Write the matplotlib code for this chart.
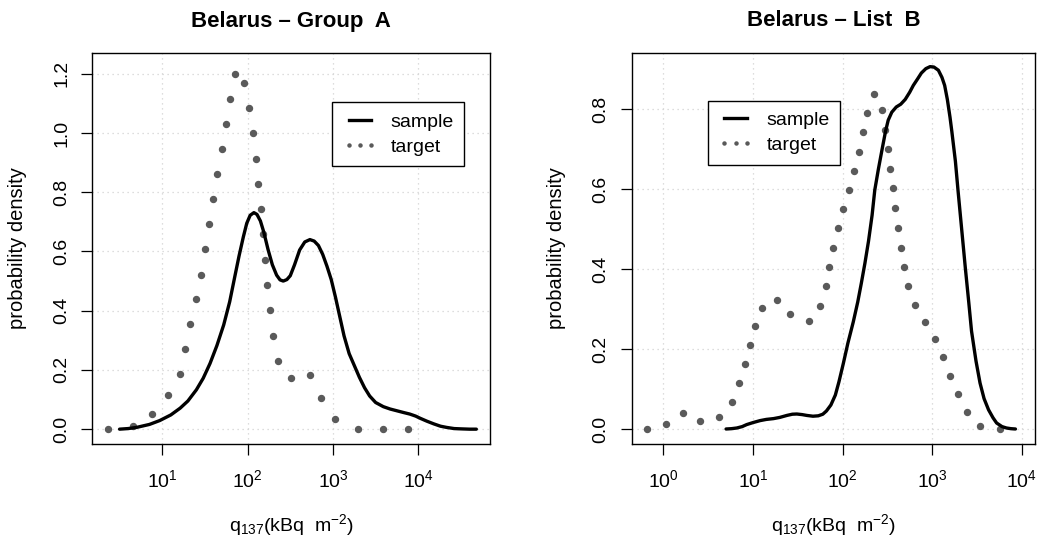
import numpy as np
import matplotlib
matplotlib.use('Agg')
import matplotlib.pyplot as plt
from matplotlib.lines import Line2D
from matplotlib.ticker import FixedLocator, NullLocator, FormatStrFormatter

plt.rcParams['font.family'] = ['Liberation Sans', 'DejaVu Sans']
plt.rcParams['mathtext.fontset'] = 'custom'
plt.rcParams['mathtext.rm'] = 'Liberation Sans'
plt.rcParams['mathtext.it'] = 'Liberation Sans:italic'
plt.rcParams['mathtext.bf'] = 'Liberation Sans:bold'

# ---- data (log10 of q137 in kBq/m2, density) ----
# Group A
a_sample_logq = [0.50, 0.60, 0.70, 0.85, 0.97, 1.10, 1.21, 1.30, 1.40, 1.48, 1.56,
                 1.64, 1.72, 1.79, 1.85, 1.90, 1.95, 1.99, 2.03, 2.074, 2.11, 2.15,
                 2.19, 2.24, 2.29, 2.34, 2.38, 2.418, 2.46, 2.50, 2.55, 2.61, 2.67,
                 2.73, 2.78, 2.83, 2.88, 2.93, 2.98, 3.03, 3.08, 3.13, 3.19, 3.25,
                 3.31, 3.37, 3.43, 3.50, 3.59, 3.67, 3.75, 3.83, 3.90, 3.97, 4.02,
                 4.10, 4.18, 4.26, 4.33, 4.42, 4.50, 4.60, 4.68]
a_sample_dens = [0.0, 0.002, 0.006, 0.016, 0.029, 0.048, 0.071, 0.095, 0.133, 0.172, 0.222,
                 0.282, 0.352, 0.430, 0.515, 0.585, 0.649, 0.695, 0.722, 0.731, 0.725, 0.703,
                 0.665, 0.606, 0.555, 0.520, 0.504, 0.500, 0.505, 0.518, 0.555, 0.605, 0.632,
                 0.640, 0.635, 0.620, 0.590, 0.550, 0.505, 0.445, 0.380, 0.315, 0.255, 0.215,
                 0.175, 0.140, 0.112, 0.090, 0.076, 0.068, 0.062, 0.056, 0.051, 0.044, 0.037,
                 0.027, 0.018, 0.010, 0.006, 0.002, 0.001, 0.0, 0.0]
a_target_logq = [0.36, 0.652, 0.883, 1.063, 1.207, 1.266, 1.324, 1.39, 1.449, 1.50,
                 1.547, 1.594, 1.645, 1.695, 1.742, 1.789, 1.848, 1.961, 2.016, 2.059,
                 2.098, 2.125, 2.152, 2.176, 2.203, 2.23, 2.262, 2.30, 2.352, 2.504,
                 2.734, 2.859, 3.02, 3.29, 3.586, 3.883]
a_target_dens = [0.0, 0.012, 0.052, 0.116, 0.187, 0.271, 0.355, 0.438, 0.521, 0.607,
                 0.691, 0.776, 0.861, 0.945, 1.030, 1.115, 1.199, 1.169, 1.083, 0.999,
                 0.913, 0.828, 0.743, 0.658, 0.572, 0.487, 0.401, 0.316, 0.231, 0.174,
                 0.184, 0.106, 0.034, 0.0, 0.0, 0.0]

# List B
b_sample_logq = [0.70, 0.76, 0.82, 0.88, 0.93, 1.00, 1.08, 1.15, 1.23, 1.30, 1.38,
                 1.44, 1.49, 1.55, 1.60, 1.67, 1.73, 1.78, 1.82, 1.87, 1.92, 1.96,
                 2.01, 2.06, 2.12, 2.17, 2.21, 2.25, 2.29, 2.33, 2.36, 2.40, 2.44,
                 2.48, 2.51, 2.55, 2.60, 2.65, 2.70, 2.75, 2.79, 2.84, 2.88, 2.93,
                 2.977, 3.02, 3.07, 3.11, 3.14, 3.17, 3.20, 3.22, 3.26, 3.29, 3.33,
                 3.37, 3.41, 3.44, 3.49, 3.535, 3.58, 3.63, 3.68, 3.72, 3.78, 3.83,
                 3.88, 3.93]
b_sample_dens = [0.0, 0.0008, 0.0025, 0.006, 0.011, 0.016, 0.021, 0.024, 0.026, 0.029, 0.034,
                 0.037, 0.0375, 0.036, 0.034, 0.032, 0.033, 0.037, 0.045, 0.060, 0.085, 0.118,
                 0.165, 0.215, 0.268, 0.318, 0.365, 0.415, 0.470, 0.535, 0.598, 0.650, 0.698,
                 0.745, 0.773, 0.793, 0.806, 0.813, 0.825, 0.843, 0.860, 0.877, 0.891, 0.902,
                 0.907, 0.906, 0.898, 0.880, 0.860, 0.825, 0.780, 0.745, 0.670, 0.595, 0.500,
                 0.405, 0.315, 0.245, 0.170, 0.115, 0.076, 0.048, 0.028, 0.015, 0.006, 0.0025,
                 0.0008, 0.0]
b_target_logq = [-0.182, 0.026, 0.216, 0.413, 0.625, 0.763, 0.845, 0.908, 0.967, 1.027,
                 1.105, 1.269, 1.418, 1.626, 1.753, 1.812, 1.853, 1.898, 1.946, 2.006,
                 2.073, 2.132, 2.184, 2.233, 2.277, 2.352, 2.441, 2.478, 2.512, 2.534,
                 2.56, 2.586, 2.616, 2.649, 2.683, 2.735, 2.806, 2.917, 3.033, 3.126,
                 3.20, 3.286, 3.386, 3.539, 3.758]
b_target_dens = [0.0, 0.0125, 0.040, 0.020, 0.030, 0.068, 0.114, 0.162, 0.209, 0.257,
                 0.303, 0.3225, 0.287, 0.271, 0.309, 0.3575, 0.405, 0.454, 0.5025, 0.551,
                 0.598, 0.646, 0.694, 0.7425, 0.791, 0.8375, 0.798, 0.749, 0.700, 0.652,
                 0.602, 0.552, 0.5025, 0.453, 0.405, 0.357, 0.310, 0.267, 0.225, 0.179,
                 0.1325, 0.0867, 0.0425, 0.0067, 0.0]

titles = ['Belarus \u2013 Group  A', 'Belarus \u2013 List  B']
legend_labels = ['sample', 'target']

dot_color = '#5a5a5a'


def draw_panel(ax, title, s_logq, s_dens, t_logq, t_dens, xlim_log, ylim,
               xdecades, yticks, leg_xy):
    ax.set_xscale('log')
    # target: R-style thick dotted line, drawn as its dots
    ax.plot(10 ** np.array(t_logq), t_dens, ls='none', marker='o', ms=4.3,
            color=dot_color, mec=dot_color, zorder=3)
    ax.plot(10 ** np.array(s_logq), s_dens, color='black', lw=2.4,
            solid_joinstyle='round', solid_capstyle='round', zorder=4)

    ax.set_xlim(10 ** xlim_log[0], 10 ** xlim_log[1])
    ax.set_ylim(*ylim)
    ax.xaxis.set_major_locator(FixedLocator([10.0 ** k for k in xdecades]))
    ax.xaxis.set_minor_locator(NullLocator())
    ax.yaxis.set_major_locator(FixedLocator(yticks))
    ax.yaxis.set_major_formatter(FormatStrFormatter('%.1f'))

    ax.grid(True, color='#d3d3d3', ls=(0, (1, 3)), lw=0.9)
    ax.set_axisbelow(True)
    for sp in ax.spines.values():
        sp.set_linewidth(1.0)

    ax.tick_params(axis='both', direction='out', length=8, width=0.9,
                   labelsize=14, color='black')
    ax.tick_params(axis='x', pad=10)
    ax.tick_params(axis='y', pad=8)
    for lab in ax.get_yticklabels():
        lab.set_rotation(90)
        lab.set_va('center')

    ax.set_title(title, fontsize=16, fontweight='bold', pad=19)
    ax.set_ylabel('probability density', fontsize=14.5, labelpad=19)
    ax.set_xlabel(r'$\mathregular{q_{137}(kBq\ \ m^{-2})}$', fontsize=14, labelpad=15)

    handles = [Line2D([], [], color='black', lw=2.4),
               Line2D([], [], ls='none', marker='o', ms=2.2, color=dot_color)]
    leg = ax.legend(handles, legend_labels, numpoints=3, loc='upper left',
                    bbox_to_anchor=leg_xy, borderaxespad=0, fancybox=False,
                    edgecolor='black', framealpha=1, fontsize=14, borderpad=0.55,
                    handlelength=1.75, handletextpad=0.7, labelspacing=0.38)
    leg.get_frame().set_linewidth(1.0)


fig = plt.figure(figsize=(10.39, 5.39), dpi=100)
ax1 = fig.add_axes([0.0888, 0.1763, 0.3828, 0.7254])
ax2 = fig.add_axes([0.608, 0.1763, 0.3882, 0.7260])

draw_panel(ax1, titles[0], a_sample_logq, a_sample_dens, a_target_logq, a_target_dens,
           (0.18, 4.84), (-0.05, 1.27), [1, 2, 3, 4],
           [0.0, 0.2, 0.4, 0.6, 0.8, 1.0, 1.2], (0.603, 0.874))
draw_panel(ax2, titles[1], b_sample_logq, b_sample_dens, b_target_logq, b_target_dens,
           (-0.353, 4.149), (-0.0375, 0.942), [0, 1, 2, 3, 4],
           [0.0, 0.2, 0.4, 0.6, 0.8], (0.189, 0.877))

fig.savefig('out.png', dpi=100)
